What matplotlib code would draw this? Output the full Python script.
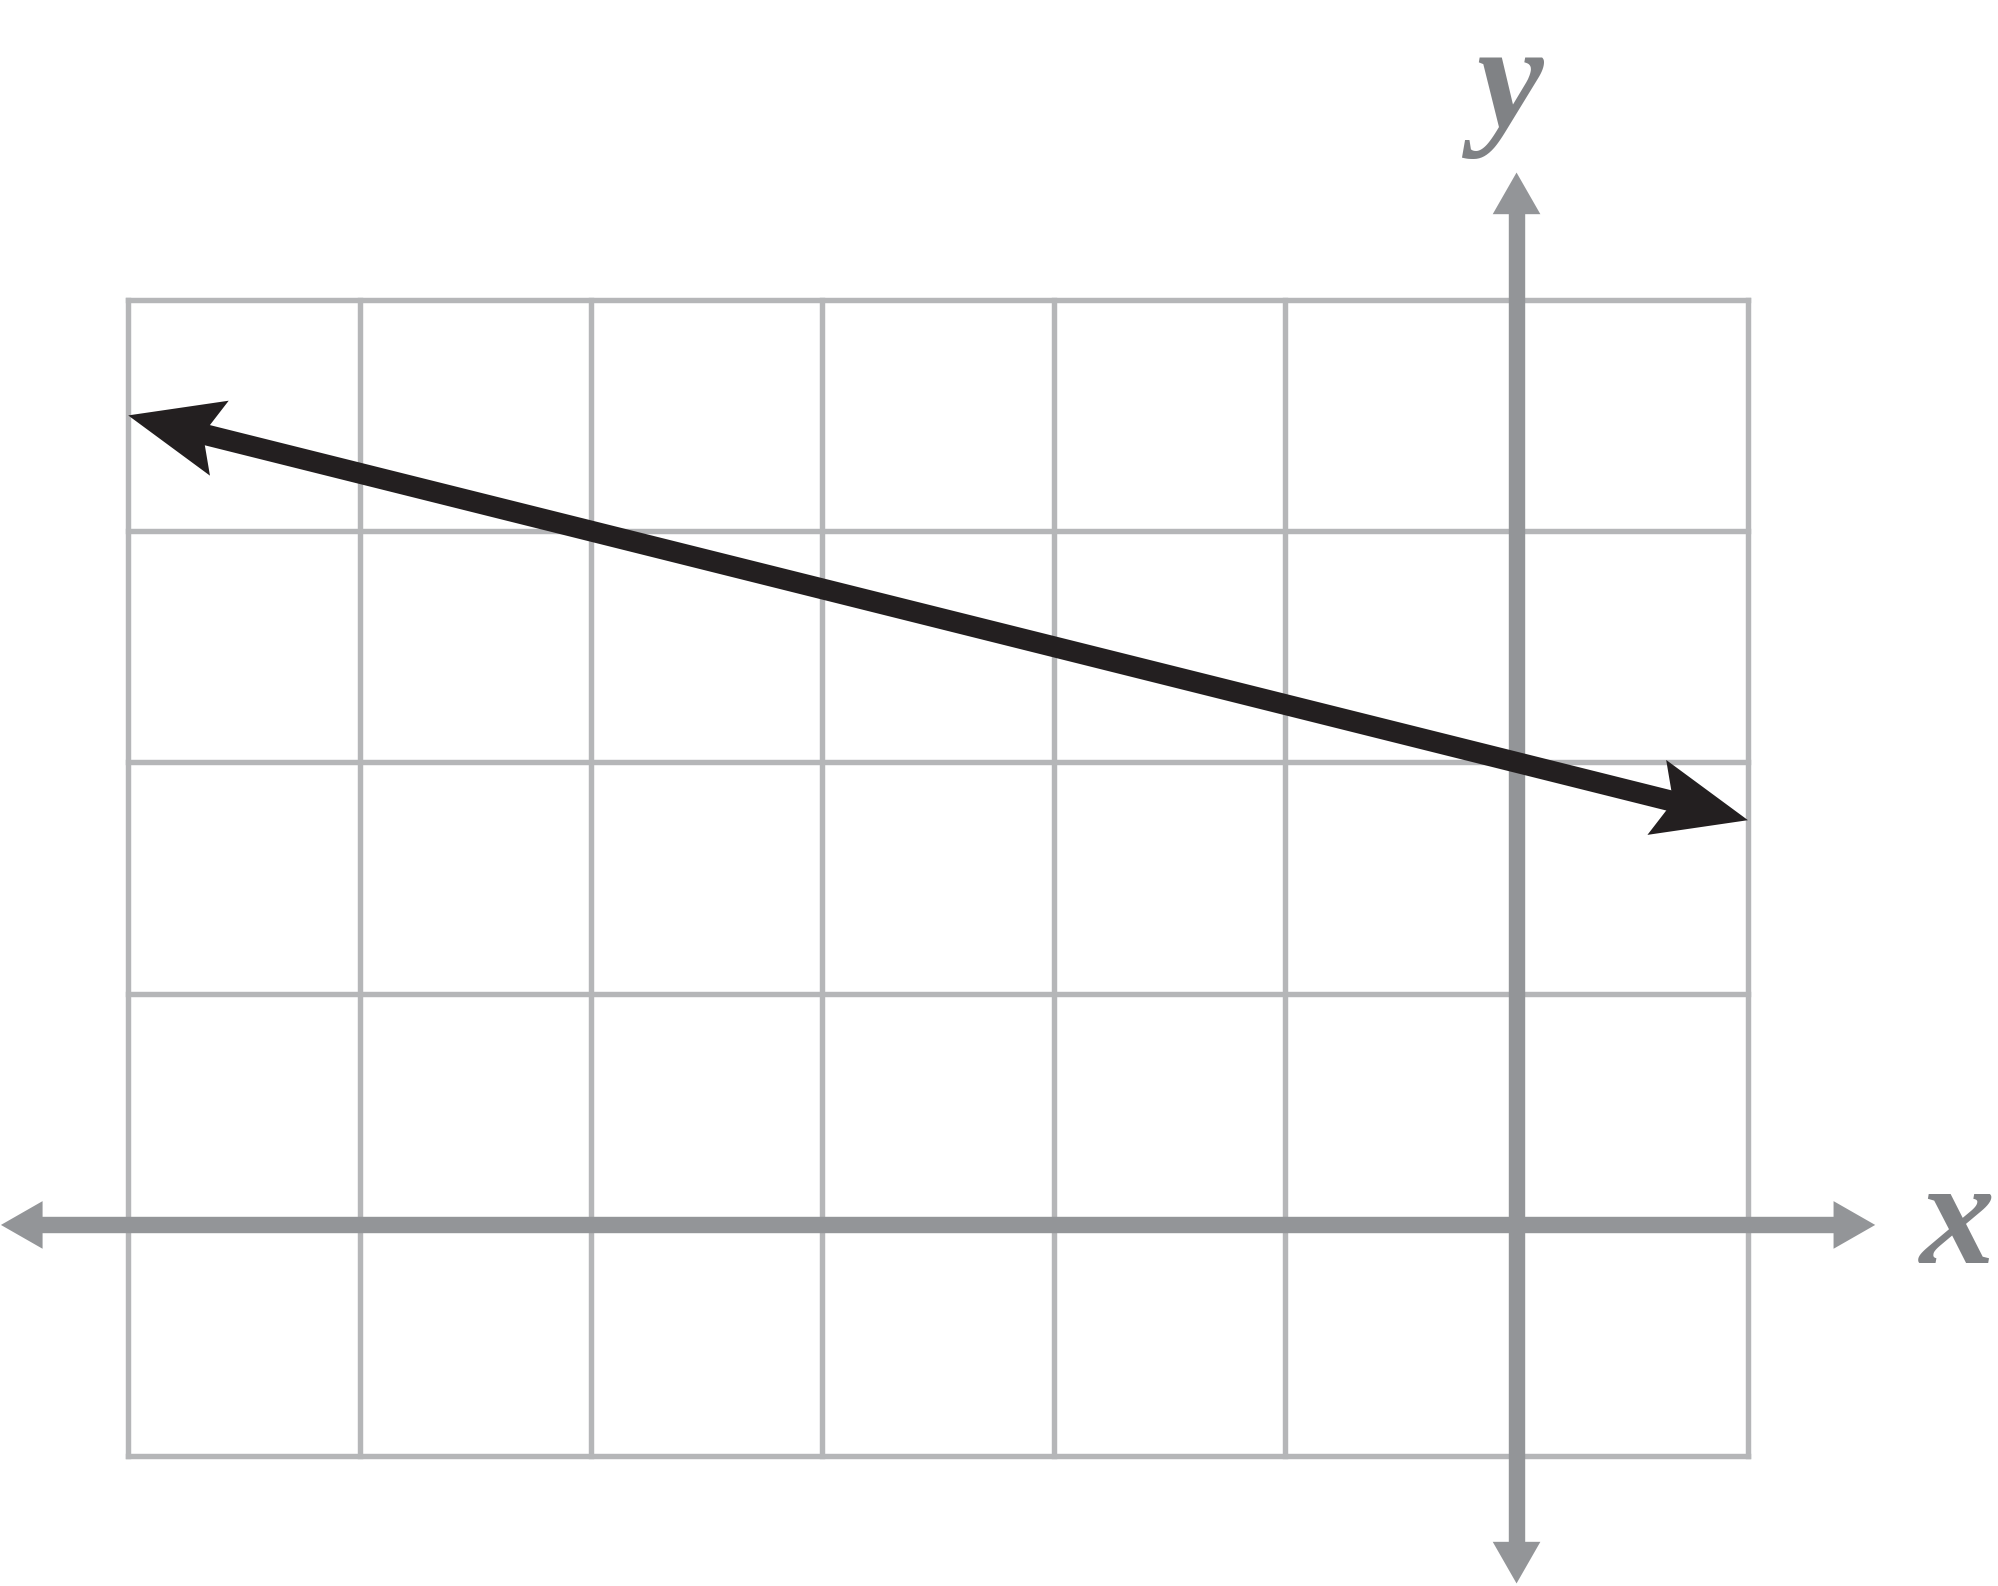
import numpy as np
import matplotlib
matplotlib.use("Agg")
import matplotlib.pyplot as plt
from matplotlib.patches import Polygon

# grid range (unit squares)
grid_x = [-6, -5, -4, -3, -2, -1, 0, 1]
grid_y = [-1, 0, 1, 2, 3, 4]

# axis extents
x_axis = [-6.55, 1.55]
y_axis = [-1.55, 4.55]

# the line y = -x/4 + 2
line_x = [-6, 1]
line_y = [3.5, 1.75]

GRID_C = '#b5b6b8'
AXIS_C = '#939598'
LABEL_C = '#808285'
LINE_C = '#231f20'


def arrow_head(ax, tip, back, length, half_w, notch, color, z):
    """Polygon arrowhead with its tip at `tip`, pointing away from `back`.
    Returns the point where the shaft should stop (a bit inside the head)."""
    tip = np.asarray(tip, float)
    d = tip - np.asarray(back, float)
    d /= np.hypot(*d)
    n = np.array([-d[1], d[0]])
    pts = [tip,
           tip - d * length + n * half_w,
           tip - d * notch,
           tip - d * length - n * half_w]
    ax.add_patch(Polygon(pts, closed=True, facecolor=color, edgecolor='none', zorder=z))
    return tip - d * (notch - 0.03)


fig = plt.figure(figsize=(19.99, 15.86), dpi=100)
ax = fig.add_axes([0, 0, 1, 1])
ax.set_xlim(-6.554, 2.085)
ax.set_ylim(-1.561, 5.296)
ax.axis('off')

# grid
vl = ax.vlines(grid_x, grid_y[0], grid_y[-1], colors=GRID_C, linewidth=3.9, zorder=1)
hl = ax.hlines(grid_y, grid_x[0], grid_x[-1], colors=GRID_C, linewidth=3.9, zorder=1)
vl.set_capstyle('projecting')
hl.set_capstyle('projecting')

# axes with arrowheads
ah_len, ah_w = 0.18, 0.103
x0 = arrow_head(ax, (x_axis[0], 0), (0, 0), ah_len, ah_w, ah_len, AXIS_C, 2)
x1 = arrow_head(ax, (x_axis[1], 0), (0, 0), ah_len, ah_w, ah_len, AXIS_C, 2)
ax.plot([x0[0], x1[0]], [0, 0], color=AXIS_C, linewidth=11.8, solid_capstyle='butt', zorder=2)
y0 = arrow_head(ax, (0, y_axis[0]), (0, 0), ah_len, ah_w, ah_len, AXIS_C, 2)
y1 = arrow_head(ax, (0, y_axis[1]), (0, 0), ah_len, ah_w, ah_len, AXIS_C, 2)
ax.plot([0, 0], [y0[1], y1[1]], color=AXIS_C, linewidth=11.8, solid_capstyle='butt', zorder=2)

# the line with arrowheads on both ends
p0 = (line_x[0], line_y[0])
p1 = (line_x[1], line_y[1])
s0 = arrow_head(ax, p0, p1, 0.406, 0.167, 0.333, LINE_C, 3)
s1 = arrow_head(ax, p1, p0, 0.406, 0.167, 0.333, LINE_C, 3)
ax.plot([s0[0], s1[0]], [s0[1], s1[1]], color=LINE_C, linewidth=15,
        solid_capstyle='butt', zorder=3)

# axis labels
ax.text(1.905, -0.165, 'x', fontsize=108, family='Liberation Serif', style='italic',
        weight='bold', color=LABEL_C, ha='center', va='baseline')
ax.text(-0.033, 4.747, 'y', fontsize=108, family='Liberation Serif', style='italic',
        weight='bold', color=LABEL_C, ha='center', va='baseline')

fig.savefig('out.png', dpi=100)
